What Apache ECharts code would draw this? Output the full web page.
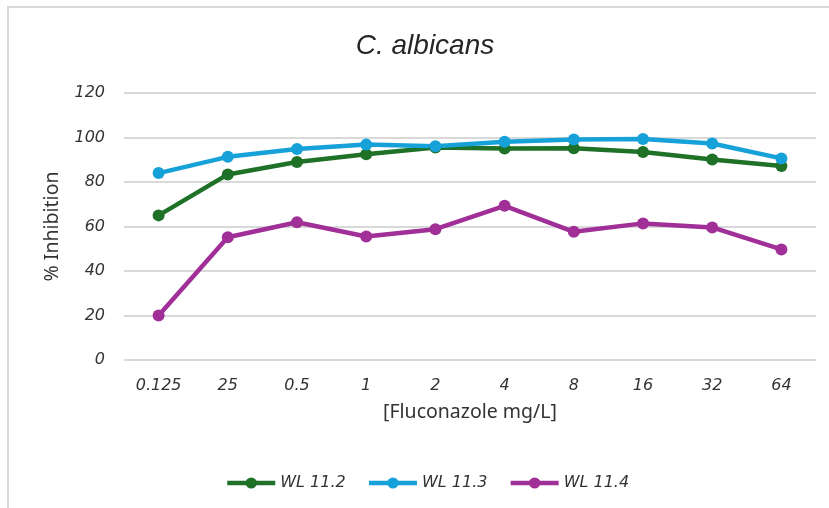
<!DOCTYPE html>
<html>
<head>
<meta charset="utf-8">
<script src="https://cdn.jsdelivr.net/npm/echarts@6/dist/echarts.min.js"></script>
<style>
  html, body { margin: 0; padding: 0; background: #ffffff; }
  #chart { width: 829px; height: 508px; }
</style>
</head>
<body>
<div id="chart"></div>
<script>
// Fluconazole concentrations (mg/L) on the category axis
const concentrations = ['0.125', '25', '0.5', '1', '2', '4', '8', '16', '32', '64'];

// % inhibition per strain
const wl112 = [65, 83.4, 89, 92.5, 95.5, 95.1, 95.2, 93.5, 90.1, 87.2];
const wl113 = [84, 91.3, 94.8, 96.8, 96.1, 98.1, 99.1, 99.3, 97.3, 90.6];
const wl114 = [20, 55.2, 61.9, 55.5, 58.8, 69.3, 57.6, 61.4, 59.6, 49.7];

const seriesNames = ['WL 11.2', 'WL 11.3', 'WL 11.4'];
const seriesColors = ['#1e7127', '#17a1d9', '#a12f98'];

const yTicks = { min: 0, max: 120, interval: 20 };

const tickFont = { fontFamily: 'DejaVu Sans', fontStyle: 'italic', fontSize: 16, color: '#333333' };
const nameFont = { fontFamily: 'Noto Sans', fontSize: 19.5, color: '#333333' };

function lineSeries(name, data, color) {
  return {
    name: name,
    type: 'line',
    data: data,
    symbol: 'circle',
    symbolSize: 12,
    lineStyle: { width: 4.5, color: color },
    itemStyle: { color: color },
    emphasis: { disabled: true }
  };
}

const chart = echarts.init(document.getElementById('chart'), null, { renderer: 'canvas' });
chart.setOption({
  animation: false,
  backgroundColor: '#ffffff',
  graphic: [{
    type: 'rect',
    shape: { x: 8, y: 7, width: 900, height: 600 },
    style: { fill: 'none', stroke: '#d9d9d9', lineWidth: 2 },
    silent: true
  }],
  title: {
    text: 'C. albicans',
    left: 425,
    top: 32,
    textAlign: 'center',
    padding: 0,
    textStyle: { fontFamily: 'Liberation Sans', fontStyle: 'italic', fontWeight: 'normal', fontSize: 28, color: '#262626' }
  },
  grid: { left: 124, right: 13, top: 93, bottom: 148, containLabel: false },
  legend: {
    data: seriesNames,
    left: 220,
    top: 470,
    itemWidth: 48,
    itemHeight: 14,
    itemGap: 21,
    lineStyle: { width: 4.5 },
    textStyle: tickFont
  },
  xAxis: {
    type: 'category',
    data: concentrations,
    boundaryGap: true,
    name: '[Fluconazole mg/L]',
    nameLocation: 'middle',
    nameGap: 42,
    nameTextStyle: nameFont,
    axisLine: { show: false },
    axisTick: { show: false },
    axisLabel: Object.assign({ margin: 18, interval: 0 }, tickFont)
  },
  yAxis: {
    type: 'value',
    min: yTicks.min,
    max: yTicks.max,
    interval: yTicks.interval,
    name: '% Inhibition',
    nameLocation: 'middle',
    nameGap: 62,
    nameTextStyle: nameFont,
    axisLine: { show: false },
    axisTick: { show: false },
    axisLabel: Object.assign({ margin: 19 }, tickFont),
    splitLine: { lineStyle: { color: '#d9d9d9', width: 2 } }
  },
  series: [
    lineSeries(seriesNames[0], wl112, seriesColors[0]),
    lineSeries(seriesNames[1], wl113, seriesColors[1]),
    lineSeries(seriesNames[2], wl114, seriesColors[2])
  ]
});
</script>
</body>
</html>
